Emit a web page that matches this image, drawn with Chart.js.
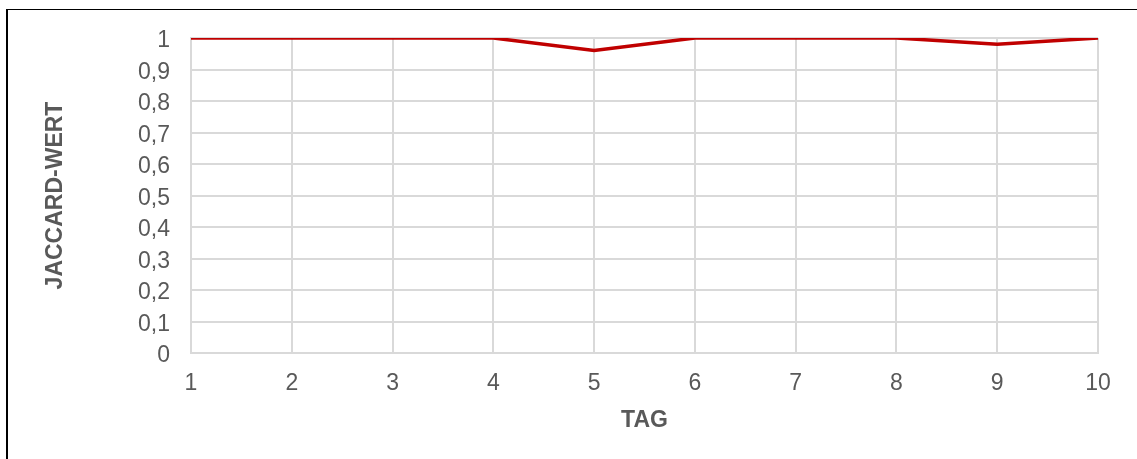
<!DOCTYPE html>
<html>
<head>
<meta charset="utf-8">
<script src="https://cdn.jsdelivr.net/npm/chart.js@4/dist/chart.umd.min.js"></script>
<style>
  html, body { margin: 0; padding: 0; background: #fff; overflow: hidden; }
  #wrap { position: relative; width: 1137px; height: 459px; }
  #frame {
    position: absolute; left: 6px; top: 9px; width: 1200px; height: 500px;
    border-top: 1px solid #000; border-left: 2px solid #000; pointer-events: none;
  }
</style>
</head>
<body>
<div id="wrap">
  <canvas id="jaccardChart" width="1137" height="459"></canvas>
  <div id="frame"></div>
</div>
<script>
// Chart data
const days = ['1', '2', '3', '4', '5', '6', '7', '8', '9', '10'];
const jaccardValues = [1, 1, 1, 1, 0.96, 1, 1, 1, 0.98, 1];
const xTitle = 'TAG';
const yTitle = 'JACCARD-WERT';

const textGrey = '#595959';
const gridGrey = '#d9d9d9';

// Format ticks with German decimal comma
function formatTick(value) {
    if (value === 0 || value === 1) return String(value);
    return value.toFixed(1).replace('.', ',');
}

const ctx = document.getElementById('jaccardChart').getContext('2d');
const jaccardChart = new Chart(ctx, {
    type: 'line',
    data: {
        labels: days,
        datasets: [{
            label: yTitle,
            data: jaccardValues,
            borderColor: '#c00000',
            borderWidth: 3.5,
            pointRadius: 0,
            tension: 0,
            fill: false,
            clip: { top: 0, left: 5, right: 5, bottom: 5 }
        }]
    },
    options: {
        responsive: false,
        animation: false,
        devicePixelRatio: 1,
        layout: {
            padding: { top: 38, right: 39, left: 0, bottom: 0 }
        },
        plugins: {
            legend: { display: false },
            tooltip: { enabled: false }
        },
        scales: {
            x: {
                offset: false,
                grid: { color: gridGrey, lineWidth: 2, drawTicks: false },
                border: { color: gridGrey, width: 2 },
                ticks: {
                    color: textGrey,
                    padding: 17,
                    maxRotation: 0,
                    font: { family: '"Liberation Sans", Arial, sans-serif', size: 23 }
                },
                title: {
                    display: true,
                    text: xTitle,
                    color: textGrey,
                    padding: { top: 0, bottom: 25 },
                    font: { family: '"Liberation Sans", Arial, sans-serif', size: 23, weight: 'bold' }
                },
                afterFit: scale => { scale.height = 106; }
            },
            y: {
                min: 0,
                max: 1,
                grid: { color: gridGrey, lineWidth: 2, drawTicks: false },
                border: { color: gridGrey, width: 2 },
                ticks: {
                    stepSize: 0.1,
                    color: textGrey,
                    padding: 21,
                    labelOffset: 3,
                    callback: formatTick,
                    font: { family: '"Liberation Sans", Arial, sans-serif', size: 23 }
                },
                title: {
                    display: true,
                    text: yTitle,
                    color: textGrey,
                    padding: { top: 42, bottom: 0 },
                    font: { family: '"Liberation Sans", Arial, sans-serif', size: 23, weight: 'bold' }
                },
                afterFit: scale => { scale.width = 191; }
            }
        }
    }
});
</script>
</body>
</html>
